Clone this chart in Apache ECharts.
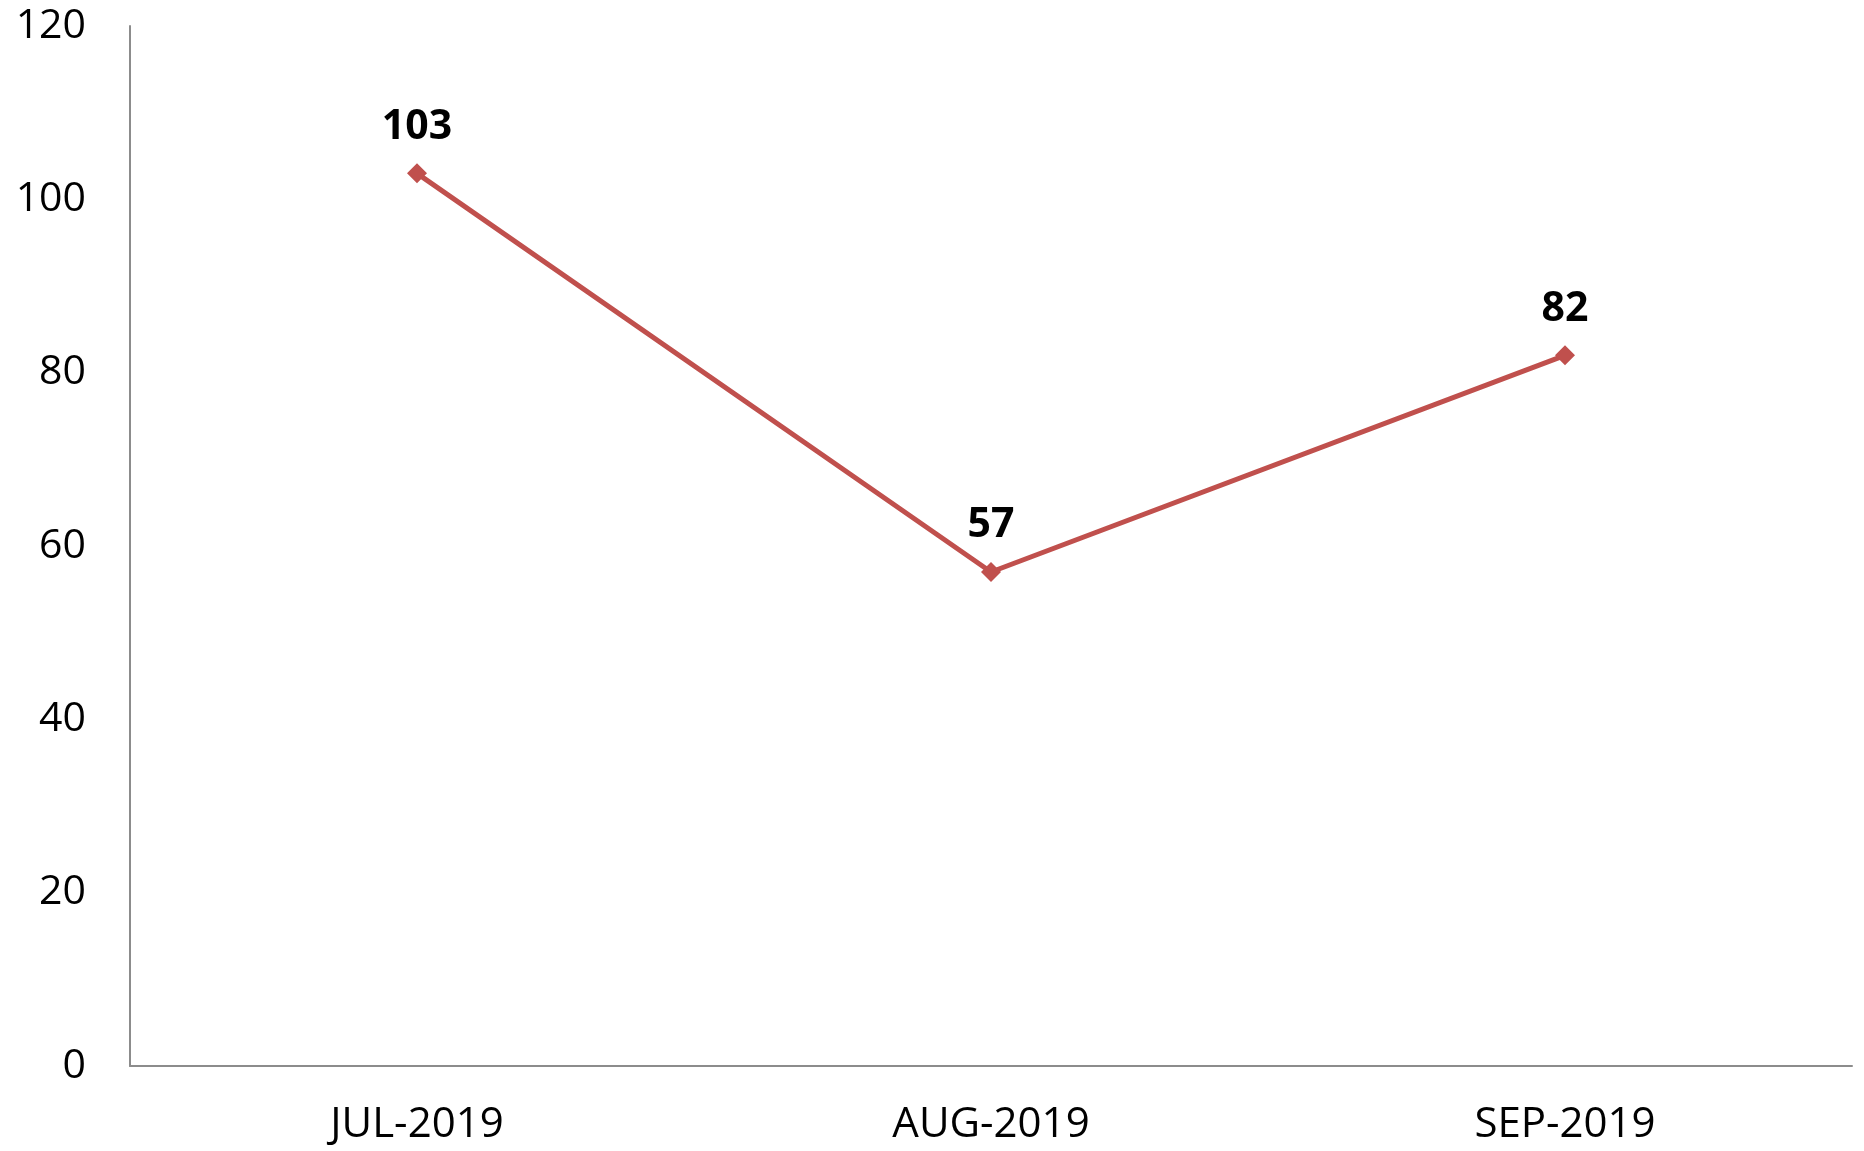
<!DOCTYPE html>
<html>
<head>
<meta charset="utf-8">
<script src="https://cdn.jsdelivr.net/npm/echarts@6/dist/echarts.min.js"></script>
<style>
  html, body { margin: 0; padding: 0; background: #fff; }
  #main { width: 1864px; height: 1151px; }
</style>
</head>
<body>
<div id="main"></div>
<script>
    // data
    var months = ['JUL-2019', 'AUG-2019', 'SEP-2019'];
    var counts = [103, 57, 82];
    var yTicks = [0, 20, 40, 60, 80, 100, 120];

    var myChart = echarts.init(document.getElementById('main'));

    var option = {
        animation: false,
        grid: { left: 130, right: 12, top: 26, bottom: 85 },
        xAxis: {
            type: 'category',
            data: months,
            boundaryGap: true,
            axisLine: { lineStyle: { color: '#8c8c8c', width: 2 } },
            axisTick: { show: false },
            axisLabel: {
                color: '#000',
                fontFamily: 'Open Sans',
                fontSize: 42,
                margin: 38
            }
        },
        yAxis: {
            type: 'value',
            min: yTicks[0],
            max: yTicks[yTicks.length - 1],
            interval: 20,
            splitLine: { show: false },
            axisLine: { show: true, lineStyle: { color: '#8c8c8c', width: 2 } },
            axisTick: { show: false },
            axisLabel: {
                color: '#000',
                fontFamily: 'Open Sans',
                fontSize: 41,
                margin: 44
            }
        },
        series: [{
            type: 'line',
            data: counts,
            symbol: 'diamond',
            symbolSize: 20,
            lineStyle: { color: '#c0504d', width: 5 },
            itemStyle: { color: '#c0504d' },
            label: {
                show: true,
                position: 'top',
                distance: 16,
                color: '#000',
                fontFamily: 'Open Sans',
                fontWeight: 'bold',
                fontSize: 41
            }
        }]
    };
    myChart.setOption(option);
</script>
</body>
</html>
